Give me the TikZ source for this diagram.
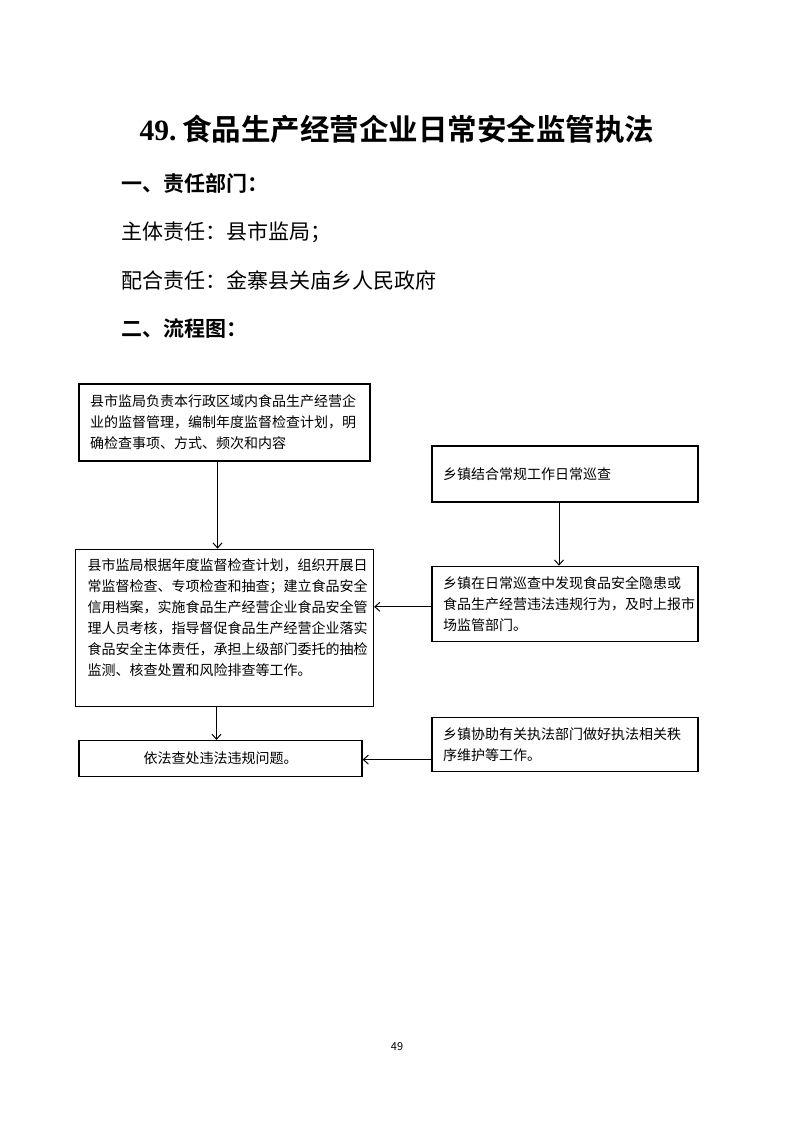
\documentclass[tikz,border=0pt]{standalone}
\usepackage{fontspec}
\usepackage{xcolor}
\usepackage{tikz}
\usetikzlibrary{arrows.meta, positioning, calc}
\setmainfont{Liberation Serif}
\newfontfamily\cjk{Noto Sans CJK SC}[BoldFont={Noto Sans CJK SC Bold}]

\begin{document}
\begin{tikzpicture}
					[x=1pt, y=1pt, >={Straight Barb[length=5pt,width=9pt]},
					task/.style={rectangle, draw, line width=1.3pt, inner xsep=11pt, align=left, font=\cjk\fontsize{14}{21}\selectfont},
					town/.style={task, minimum width=266pt, text width=244pt},
					heading/.style={anchor=west, font=\cjk\bfseries\fontsize{21}{25}\selectfont},
					duty/.style={anchor=west, font=\cjk\fontsize{21}{25}\selectfont},
					flow/.style={->, line width=1pt}
					]
					\useasboundingbox (0,0) rectangle (793,-1122);
					
					% Title and text
					\node[font=\fontsize{29.5}{35}\selectfont] (title) at (397,-129) {\textbf{49.}\hspace{6pt}{\cjk\bfseries 食品生产经营企业日常安全监管执法}};
					\node[heading] (dept) at (118,-183) {一、责任部门：};
					\node[duty] (main) at (118,-232) {主体责任：县市监局；};
					\node[duty] (coop) at (118,-280) {配合责任：金寨县关庙乡人民政府};
					\node[heading] (chart) at (118,-329) {二、流程图：};
					
					% Nodes
					\node[task, minimum width=291pt, minimum height=77pt, text width=269pt] (plan) at (224.5,-422.5)
						{县市监局负责本行政区域内食品生产经营企\\业的监督管理，编制年度监督检查计划，明\\确检查事项、方式、频次和内容};
					\node[task, below=87pt of plan, minimum width=298pt, minimum height=157pt, inner xsep=12pt, text width=274pt] (inspect)
						{县市监局根据年度监督检查计划，组织开展日\\常监督检查、专项检查和抽查；建立食品安全\\信用档案，实施食品生产经营企业食品安全管\\理人员考核，指导督促食品生产经营企业落实\\食品安全主体责任，承担上级部门委托的抽检\\监测、核查处置和风险排查等工作。\\\mbox{}};
					\node[task, below=33pt of inspect, xshift=-4pt, minimum width=283pt, minimum height=36pt, align=center] (handle)
						{依法查处违法违规问题。};
					\node[town, minimum height=56pt] (patrol) at (565,-474) {乡镇结合常规工作日常巡查};
					\node[town, below=63pt of patrol, minimum height=75pt] (report)
						{乡镇在日常巡查中发现食品安全隐患或\\食品生产经营违法违规行为，及时上报市\\场监管部门。};
					\node[town, below=75pt of report, minimum height=54pt] (assist)
						{乡镇协助有关执法部门做好执法相关秩\\序维护等工作。};
					
					% Arrows
					\draw[flow] ([xshift=-7pt]plan.south) -- ([xshift=-7pt]plan.south |- inspect.north);
					\draw[flow] ([xshift=-6pt]patrol.south) -- ([xshift=-6pt]patrol.south |- report.north);
					\draw[flow] ([yshift=-3pt]report.west) -- ([yshift=-3pt]report.west -| inspect.east);
					\draw[flow] ([xshift=-8pt]inspect.south) -- ([xshift=-8pt]inspect.south |- handle.north);
					\draw[flow] ([yshift=-15pt]assist.west) -- ([yshift=-15pt]assist.west -| handle.east);
					
					% Page number
					\node[font=\cjk\fontsize{11}{13}\selectfont] (page) at (397,-1047) {49};
				\end{tikzpicture}
\end{document}
